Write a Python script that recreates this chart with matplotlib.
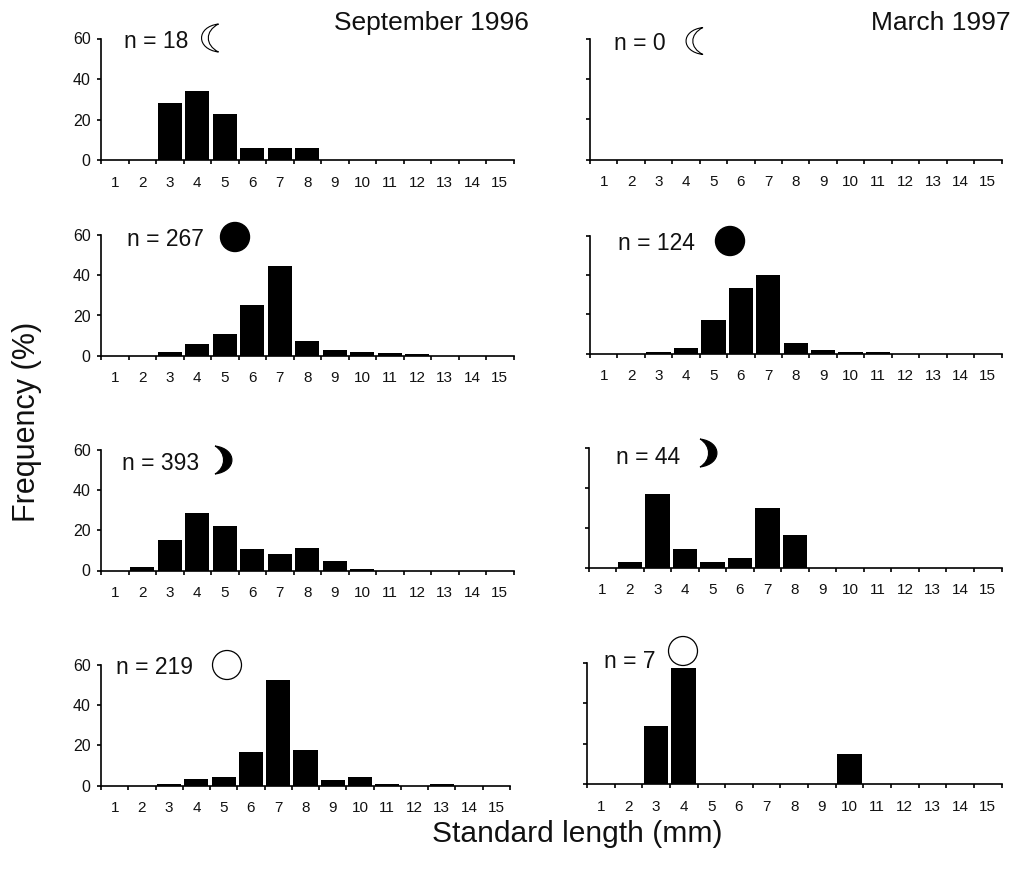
import numpy as np
import matplotlib
matplotlib.use('Agg')
import matplotlib.pyplot as plt
from matplotlib.patches import Circle, PathPatch
from matplotlib.path import Path

plt.rcParams['font.family'] = ['Liberation Sans', 'DejaVu Sans']

W, H = 1013, 877

# bins de talla (mm)
tallas = np.arange(1, 16)
etiquetas_y = [0, 20, 40, 60]

# frecuencias (%)
sep_cuarto_a = [0, 0, 28.3, 33.9, 22.7, 6, 6, 6, 0, 0, 0, 0, 0, 0, 0]
sep_nueva = [0, 0, 1.7, 6, 11, 25, 44.8, 7.3, 3, 2, 1.5, 0.8, 0, 0, 0]
sep_cuarto_b = [0, 1.5, 15.2, 28.5, 22, 10.5, 8.2, 11, 4.6, 0.6, 0, 0, 0, 0, 0]
sep_llena = [0, 0, 0.6, 3, 4, 16.8, 52.5, 17.7, 2.6, 4, 0.6, 0, 0.6, 0, 0]
mar_cuarto_a = [0] * 15
mar_nueva = [0, 0, 1, 3, 17, 33.5, 40, 5.5, 2, 1, 1, 0, 0, 0, 0]
mar_cuarto_b = [0, 2.7, 36.7, 9.3, 2.7, 4.7, 29.7, 16.2, 0, 0, 0, 0, 0, 0, 0]
mar_llena = [0, 0, 28.8, 57.5, 0, 0, 0, 0, 0, 14.7, 0, 0, 0, 0, 0]

n_sep = ['n = 18', 'n = 267', 'n = 393', 'n = 219']
n_mar = ['n = 0', 'n = 124', 'n = 44', 'n = 7']

# cajas de cada panel en pixeles: izq, der, y0, y60
cajas_sep = [(101, 513.5, 160, 38.5), (101, 513.5, 355.5, 235.5),
             (101, 513.5, 570.5, 449.5), (101, 510, 785.5, 665)]
cajas_mar = [(590, 1001.5, 159.5, 38.5), (590, 1001.5, 353.5, 235.5),
             (588.5, 1001.5, 567.5, 447.5), (587, 1001.5, 784, 662.5)]

# posicion de los textos n = ... (x izq, y centro)
pos_n_sep = [(124, 41), (127, 240), (122, 464), (116, 667)]
pos_n_mar = [(614, 43), (618, 243), (616, 457), (604, 661)]


def crear_panel(fig, caja, valores, con_etiquetas):
    izq, der, y0, y60 = caja
    ax = fig.add_axes([izq / W, 1 - y0 / H, (der - izq) / W, (y0 - y60) / H])
    ax.bar(tallas, valores, width=0.885, color='black', linewidth=0)
    ax.set_xlim(0.5, 15.5)
    ax.set_ylim(0, 60)
    for lado in ['top', 'right']:
        ax.spines[lado].set_visible(False)
    for lado in ['left', 'bottom']:
        ax.spines[lado].set_linewidth(1.2)
    ax.set_xticks(np.arange(0.5, 16, 1))
    ax.set_xticklabels([])
    ax.set_xticks(tallas, minor=True)
    ax.set_xticklabels([str(t) for t in tallas], minor=True, fontsize=11, color='#111111')
    ax.tick_params(axis='x', which='major', length=3, width=1.2)
    ax.tick_params(axis='x', which='minor', length=0, pad=11.5)
    ax.set_yticks(etiquetas_y)
    if con_etiquetas:
        ax.set_yticklabels([str(v) for v in etiquetas_y], fontsize=11.5, color='#111111')
    else:
        ax.set_yticklabels([])
    ax.tick_params(axis='y', length=3, width=1.2, pad=4.5)
    return ax


def luna(lienzo, cx, cy, alto, ancho, lado, relleno, interior):
    # media luna: arco exterior y arco interior entre las dos puntas
    s = 1 if lado == 'der' else -1
    h = alto / 2
    verts = [(cx - s * ancho / 2, cy - h),
             (cx + s * ancho * 0.83, cy - h * 0.8), (cx + s * ancho * 0.83, cy + h * 0.8),
             (cx - s * ancho / 2, cy + h),
             (cx + s * ancho * interior, cy + h * 0.5), (cx + s * ancho * interior, cy - h * 0.5),
             (cx - s * ancho / 2, cy - h)]
    codes = [Path.MOVETO, Path.CURVE4, Path.CURVE4, Path.CURVE4,
             Path.CURVE4, Path.CURVE4, Path.CURVE4]
    lienzo.add_patch(PathPatch(Path(verts, codes), facecolor=relleno, edgecolor='black', linewidth=0.8))


fig = plt.figure(figsize=(W / 100, H / 100), dpi=100)

for caja, valores in zip(cajas_sep, [sep_cuarto_a, sep_nueva, sep_cuarto_b, sep_llena]):
    crear_panel(fig, caja, valores, True)
for caja, valores in zip(cajas_mar, [mar_cuarto_a, mar_nueva, mar_cuarto_b, mar_llena]):
    crear_panel(fig, caja, valores, False)

# capa en pixeles para textos y simbolos de luna
lienzo = fig.add_axes([0, 0, 1, 1], zorder=5)
lienzo.set_xlim(0, W)
lienzo.set_ylim(H, 0)
lienzo.axis('off')

for (x, y), texto in zip(pos_n_sep + pos_n_mar, n_sep + n_mar):
    lienzo.text(x, y, texto, fontsize=16.5, ha='left', va='center', color='#111111')

lienzo.text(334, 23, 'September 1996', fontsize=19, ha='left', va='center', color='#111111')
lienzo.text(1011, 23, 'March 1997', fontsize=19, ha='right', va='center', color='#111111')
lienzo.text(27, 422, 'Frequency (%)', fontsize=22, rotation=90, ha='center', va='center', color='#111111')
lienzo.text(577, 834, 'Standard length (mm)', fontsize=21.6, ha='center', va='center', color='#111111')

luna(lienzo, 210, 38, 28, 17, 'izq', 'white', 0.3)
luna(lienzo, 694.5, 41, 27, 17, 'izq', 'white', 0.3)
luna(lienzo, 223.5, 460, 28, 17, 'der', 'black', 0.17)
luna(lienzo, 708.5, 453, 28, 17, 'der', 'black', 0.17)
lienzo.add_patch(Circle((235, 237), 14.5, facecolor='black', edgecolor='black'))
lienzo.add_patch(Circle((730, 241), 14.5, facecolor='black', edgecolor='black'))
lienzo.add_patch(Circle((227, 665), 14.5, facecolor='white', edgecolor='black', linewidth=0.9))
lienzo.add_patch(Circle((683, 651), 14.5, facecolor='white', edgecolor='black', linewidth=0.9))

fig.savefig('out.png', dpi=100)
